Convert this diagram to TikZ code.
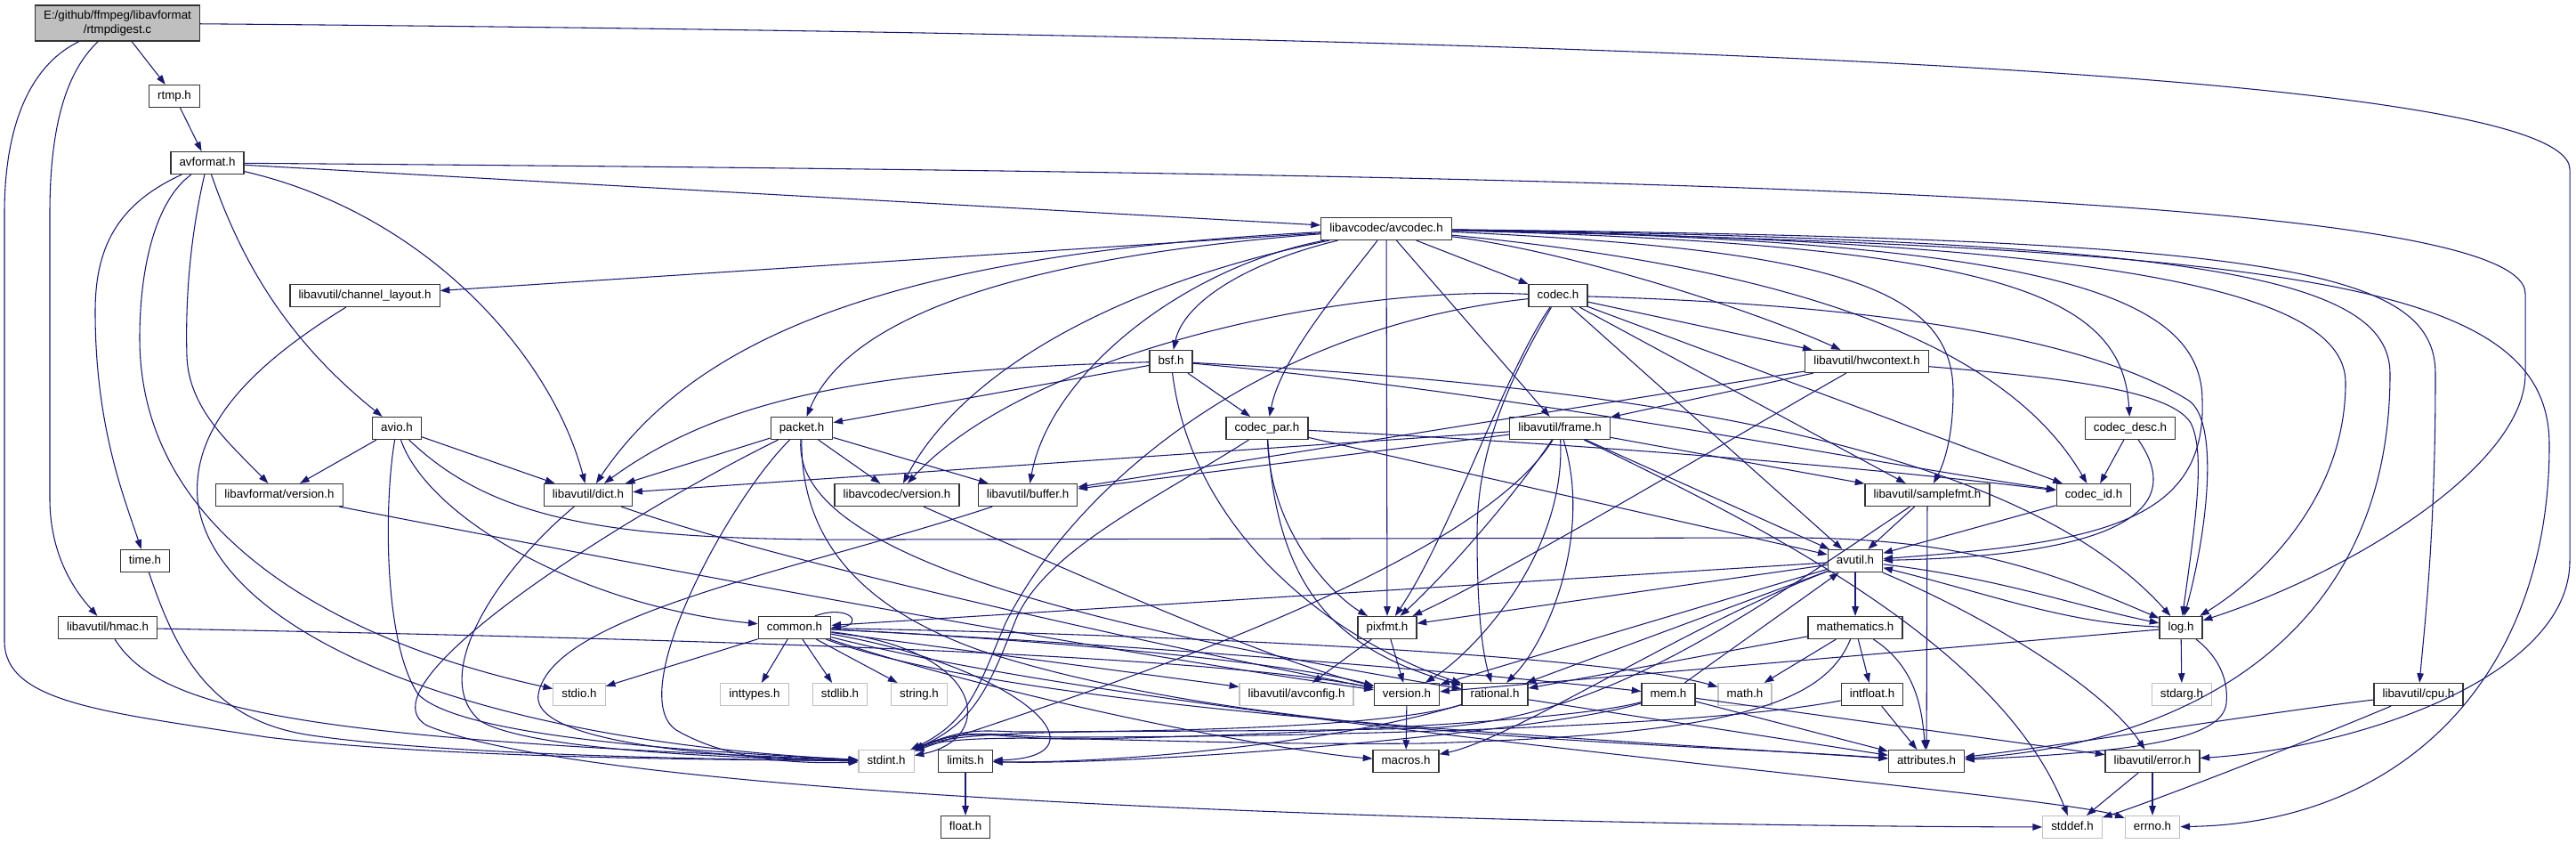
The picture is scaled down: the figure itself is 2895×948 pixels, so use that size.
\documentclass[tikz,border=0pt]{standalone}
\usepackage{fontspec}
\setmainfont{Liberation Sans}
\usetikzlibrary{arrows.meta}
\definecolor{midblue}{HTML}{191970}
\definecolor{grey75}{HTML}{BFBFBF}
\begin{document}
\begin{tikzpicture}[x=0.75pt,y=-0.75pt]
	\useasboundingbox (0,0) rectangle (2895,948);
	\fill [white] (0,0) rectangle (2895,948);
	\begin{scope}[
		boxHD/.style={rectangle,draw=black!80,line width=0.9pt,fill=white,font=\fontsize{10}{12}\selectfont,inner xsep=7.2pt,inner ysep=0pt,minimum height=18.75pt,text height=7.4pt,text depth=2.1pt},
		boxSY/.style={boxHD,draw=grey75},
		boxSR/.style={rectangle,draw=black!80,line width=0.9pt,fill=grey75,font=\fontsize{10}{12}\selectfont,align=center,inner xsep=7.2pt,inner ysep=2pt,minimum height=30pt},
		incl/.style={draw=midblue,line width=0.8pt,-{Triangle[length=8pt,width=5.6pt]}}]
		\node [boxSR]	(root)		at (132,26)		{E:/github/ffmpeg/libavformat\\/rtmpdigest.c};
		\node [boxHD]	(rtmp)		at (196,108)	{rtmp.h};
		\node [boxHD]	(avformat)	at (233,183)	{avformat.h};
		\node [boxHD]	(chlayout)	at (410,332)	{libavutil/channel\_layout.h};
		\node [boxHD]	(avio)		at (446,481)	{avio.h};
		\node [boxHD]	(lavfver)	at (314,556)	{libavformat/version.h};
		\node [boxHD]	(dict)		at (661,556)	{libavutil/dict.h};
		\node [boxHD]	(time)		at (163,630)	{time.h};
		\node [boxHD]	(hmac)		at (121,705)	{libavutil/hmac.h};
		\node [boxSY]	(stdio)		at (651,780)	{stdio.h};
		\node [boxHD]	(avcodec)	at (1558,257)	{libavcodec/avcodec.h};
		\node [boxHD]	(bsf)		at (1316,406)	{bsf.h};
		\node [boxHD]	(packet)	at (901,481)	{packet.h};
		\node [boxHD]	(codecpar)	at (1424,481)	{codec\_par.h};
		\node [boxHD]	(lavcver)	at (1008,556)	{libavcodec/version.h};
		\node [boxHD]	(buffer)	at (1155,556)	{libavutil/buffer.h};
		\node [boxHD]	(common)	at (893,705)	{common.h};
		\node [boxSY]	(inttypes)	at (848,780)	{inttypes.h};
		\node [boxSY]	(stdlib)	at (944,780)	{stdlib.h};
		\node [boxSY]	(string)	at (1033,780)	{string.h};
		\node [boxSY]	(avconfig)	at (1457,780)	{libavutil/avconfig.h};
		\node [boxHD]	(version)	at (1581,780)	{version.h};
		\node [boxHD]	(pixfmt)	at (1559,705)	{pixfmt.h};
		\node [boxSY]	(stdint)	at (996,855)	{stdint.h};
		\node [boxHD]	(limits)	at (1085,855)	{limits.h};
		\node [boxHD]	(macros)	at (1580,855)	{macros.h};
		\node [boxHD]	(float)		at (1085,929)	{float.h};
		\node [boxHD]	(codec)		at (1751,332)	{codec.h};
		\node [boxHD]	(hwctx)		at (2098,406)	{libavutil/hwcontext.h};
		\node [boxHD]	(frame)		at (1753,481)	{libavutil/frame.h};
		\node [boxHD]	(samplefmt)	at (2166,556)	{libavutil/samplefmt.h};
		\node [boxHD]	(codecid)	at (2353,556)	{codec\_id.h};
		\node [boxHD]	(codecdesc)	at (2394,481)	{codec\_desc.h};
		\node [boxHD]	(avutil)	at (2085,630)	{avutil.h};
		\node [boxHD]	(mathem)	at (2085,705)	{mathematics.h};
		\node [boxSY]	(math)		at (1961,780)	{math.h};
		\node [boxHD]	(intfloat)	at (2104,780)	{intfloat.h};
		\node [boxHD]	(rational)	at (1680,780)	{rational.h};
		\node [boxHD]	(mem)		at (1875,780)	{mem.h};
		\node [boxHD]	(attrib)	at (2165,855)	{attributes.h};
		\node [boxHD]	(error)		at (2419,855)	{libavutil/error.h};
		\node [boxSY]	(stddef)	at (2329,929)	{stddef.h};
		\node [boxSY]	(errno)		at (2419,929)	{errno.h};
		\node [boxHD]	(log)		at (2451,705)	{log.h};
		\node [boxSY]	(stdarg)	at (2452,780)	{stdarg.h};
		\node [boxHD]	(cpu)		at (2718,780)	{libavutil/cpu.h};
		\path
		(root) edge [incl]		(rtmp)
		(rtmp) edge [incl]		(avformat)
		(avformat) edge [incl]	(avcodec)
		(avcodec) edge [incl]	(chlayout)
		(avcodec) edge [incl]	(pixfmt)
		(avcodec) edge [incl]	(codec)
		(avcodec) edge [incl]	(frame)
		(avio) edge [incl]		(lavfver)
		(avio) edge [incl]		(dict)
		(bsf) edge [incl]		(packet)
		(bsf) edge [incl]		(codecpar)
		(packet) edge [incl]	(lavcver)
		(packet) edge [incl]	(buffer)
		(packet) edge [incl]	(dict)
		(codecpar) edge [incl]	(avutil)
		(codec) edge [incl]		(hwctx)
		(codec) edge [incl]		(avutil)
		(codec) edge [incl]		(samplefmt)
		(codec) edge [incl]		(codecid)
		(hwctx) edge [incl]		(buffer)
		(hwctx) edge [incl]		(frame)
		(frame) edge [incl]		(dict)
		(frame) edge [incl]		(buffer)
		(frame) edge [incl]		(avutil)
		(frame) edge [incl]		(samplefmt)
		(samplefmt) edge [incl]	(avutil)
		(samplefmt) edge [incl]	(attrib)
		(codecdesc) edge [incl]	(codecid)
		(codecid) edge [incl]	(avutil)
		(avutil) edge [incl]	(mathem)
		(avutil) edge [incl]	(common)
		(avutil) edge [incl]	(rational)
		(avutil) edge [incl]	(version)
		(avutil) edge [incl]	(pixfmt)
		(log) edge [incl]		(stdarg)
		(log) edge [incl]		(version)
		(common) edge [incl]	(inttypes)
		(common) edge [incl]	(stdlib)
		(common) edge [incl]	(string)
		(common) edge [incl]	(stdio)
		(common) edge [incl]	(avconfig)
		(pixfmt) edge [incl]	(avconfig)
		(pixfmt) edge [incl]	(version)
		(version) edge [incl]	(macros)
		(limits) edge [incl]	(float)
		(mathem) edge [incl]	(rational)
		(mathem) edge [incl]	(math)
		(mathem) edge [incl]	(intfloat)
		(intfloat) edge [incl]	(attrib)
		(rational) edge [incl]	(attrib)
		(mem) edge [incl]		(attrib)
		(mem) edge [incl]		(avutil)
		(mem) edge [incl]		(error)
		(error) edge [incl]		(errno)
		(error) edge [incl]		(stddef)
		;
		\draw [incl] (root) .. controls (75,80) and (56,140) .. (56,240) -- (56,560) .. controls (56,630) and (90,670) .. (hmac);
		\draw [incl] (root) .. controls (40,70) and (5,130) .. (5,240) -- (5,720) .. controls (5,790) and (120,800) .. (300,828) .. controls (500,852) and (800,853) .. (stdint);
		\draw [incl] (root) .. controls (1800,40) and (2885,80) .. (2888,190) -- (2888,630) .. controls (2888,760) and (2650,840) .. (error);
		\draw [incl] (avformat) .. controls (1800,195) and (2838,215) .. (2838,330) -- (2838,420) .. controls (2838,520) and (2650,640) .. (log);
		\draw [incl] (avformat) .. controls (130,230) and (107,280) .. (107,350) .. controls (107,480) and (140,560) .. (time);
		\draw [incl] (avformat) .. controls (175,225) and (157,300) .. (157,380) .. controls (157,620) and (420,730) .. (stdio);
		\draw [incl] (avformat) .. controls (215,260) and (208,330) .. (210,400) .. controls (212,460) and (260,500) .. (lavfver);
		\draw [incl] (avformat) .. controls (270,290) and (320,380) .. (avio);
		\draw [incl] (avformat) .. controls (480,240) and (620,400) .. (dict);
		\draw [incl] (chlayout) .. controls (300,400) and (215,470) .. (222,560) .. controls (235,700) and (500,830) .. (stdint);
		\draw [incl] (avio) .. controls (432,560) and (430,720) .. (470,780) .. controls (520,830) and (800,845) .. (stdint);
		\draw [incl] (avio) .. controls (480,580) and (650,680) .. (common);
		\draw [incl] (avio) .. controls (560,590) and (700,608) .. (1000,606) -- (2000,604) .. controls (2200,603) and (2300,640) .. (log);
		\draw [incl] (lavfver) .. controls (900,670) and (1300,740) .. (version);
		\draw [incl] (dict) .. controls (560,640) and (480,760) .. (540,810) .. controls (600,845) and (850,852) .. (stdint);
		\draw [incl] (dict) .. controls (900,640) and (1400,745) .. (version);
		\draw [incl] (time) .. controls (200,740) and (240,810) .. (350,826) .. controls (500,848) and (800,853) .. (stdint);
		\draw [incl] (hmac) .. controls (800,718) and (1350,735) .. (version);
		\draw [incl] (hmac) .. controls (180,800) and (350,830) .. (stdint);
		\draw [incl] (avcodec) .. controls (1000,285) and (780,380) .. (dict);
		\draw [incl] (avcodec) .. controls (1250,320) and (1080,420) .. (lavcver);
		\draw [incl] (avcodec) .. controls (1330,300) and (1180,420) .. (buffer);
		\draw [incl] (avcodec) .. controls (1200,285) and (960,340) .. (packet);
		\draw [incl] (avcodec) .. controls (1400,295) and (1330,340) .. (bsf);
		\draw [incl] (avcodec) .. controls (1510,320) and (1440,400) .. (codecpar);
		\draw [incl] (avcodec) .. controls (1750,280) and (1950,340) .. (hwctx);
		\draw [incl] (avcodec) .. controls (2050,280) and (2195,320) .. (2195,440) .. controls (2195,490) and (2185,520) .. (samplefmt);
		\draw [incl] (avcodec) .. controls (2000,300) and (2250,380) .. (codecid);
		\draw [incl] (avcodec) .. controls (2250,275) and (2385,330) .. (codecdesc);
		\draw [incl] (avcodec) .. controls (2300,270) and (2475,330) .. (2475,450) .. controls (2480,590) and (2350,610) .. (avutil);
		\draw [incl] (avcodec) .. controls (2400,272) and (2636,330) .. (2636,430) .. controls (2636,560) and (2540,650) .. (log);
		\draw [incl] (avcodec) .. controls (2550,268) and (2737,300) .. (2737,420) .. controls (2737,600) and (2725,700) .. (cpu);
		\draw [incl] (avcodec) .. controls (2470,270) and (2686,310) .. (2686,420) .. controls (2686,720) and (2450,835) .. (attrib);
		\draw [incl] (avcodec) .. controls (2600,280) and (2865,320) .. (2865,500) .. controls (2865,760) and (2700,925) .. (errno);
		\draw [incl] (bsf) .. controls (1000,415) and (820,440) .. (dict);
		\draw [incl] (bsf) .. controls (1340,600) and (1500,720) .. (rational);
		\draw [incl] (bsf) .. controls (1700,440) and (2100,520) .. (codecid);
		\draw [incl] (bsf) .. controls (1750,430) and (2250,480) .. (log);
		\draw [incl] (codecpar) .. controls (1300,560) and (1170,620) .. (1140,700) .. controls (1112,770) and (1095,812) .. (stdint);
		\draw [incl] (codecpar) .. controls (1428,600) and (1500,670) .. (pixfmt);
		\draw [incl] (codecpar) .. controls (1435,660) and (1500,730) .. (rational);
		\draw [incl] (codecpar) .. controls (1800,500) and (2100,525) .. (codecid);
		\draw [incl] (packet) .. controls (700,580) and (400,770) .. (480,815) .. controls (700,905) and (1800,928) .. (stddef);
		\draw [incl] (packet) .. controls (820,560) and (700,780) .. (760,820) .. controls (820,855) and (900,858) .. (stdint);
		\draw [incl] (packet) .. controls (900,600) and (960,680) .. (1100,730) .. controls (1400,830) and (1900,835) .. (attrib);
		\draw [incl] (packet) .. controls (890,620) and (1200,700) .. (rational);
		\draw [incl] (lavcver) .. controls (1200,640) and (1420,740) .. (version);
		\draw [incl] (buffer) .. controls (900,640) and (620,690) .. (605,780) .. controls (595,840) and (850,852) .. (stdint);
		\draw [incl] (common.30) .. controls (955,678) and (972,702) .. (common.east);
		\draw [incl] (common) .. controls (1300,810) and (2300,890) .. (errno);
		\draw [incl] (common) .. controls (1150,750) and (1250,850) .. (limits);
		\draw [incl] (common) .. controls (1110,730) and (1120,830) .. (stdint);
		\draw [incl] (common) .. controls (1300,712) and (1800,735) .. (math);
		\draw [incl] (common) .. controls (1150,800) and (1800,830) .. (attrib);
		\draw [incl] (common) .. controls (1150,790) and (1450,845) .. (macros);
		\draw [incl] (common) .. controls (1300,725) and (1700,760) .. (mem);
		\draw [incl] (common) .. controls (1200,720) and (1450,745) .. (version);
		\draw [incl] (codec) .. controls (1500,320) and (1150,400) .. (lavcver);
		\draw [incl] (codec) .. controls (1400,370) and (1200,560) .. (1130,700) .. controls (1100,770) and (1090,810) .. (stdint);
		\draw [incl] (codec) .. controls (1700,420) and (1660,500) .. (1660,600) .. controls (1660,700) and (1668,740) .. (rational);
		\draw [incl] (codec) .. controls (1690,420) and (1630,600) .. (pixfmt);
		\draw [incl] (codec) .. controls (2200,345) and (2380,400) .. (2460,450) .. controls (2495,475) and (2480,600) .. (log);
		\draw [incl] (hwctx) .. controls (1950,490) and (1700,640) .. (pixfmt);
		\draw [incl] (hwctx) .. controls (2330,425) and (2440,440) .. (2462,475) .. controls (2480,510) and (2465,600) .. (log);
		\draw [incl] (frame) .. controls (2000,600) and (2250,730) .. (stddef);
		\draw [incl] (frame) .. controls (1650,650) and (1150,800) .. (stdint);
		\draw [incl] (frame) .. controls (1790,600) and (1740,720) .. (rational);
		\draw [incl] (frame) .. controls (1700,560) and (1620,650) .. (pixfmt);
		\draw [incl] (frame) .. controls (1760,620) and (1660,730) .. (version);
		\draw [incl] (samplefmt) .. controls (1950,700) and (1800,810) .. (1600,818) .. controls (1300,825) and (1090,815) .. (stdint);
		\draw [incl] (mathem) .. controls (2050,790) and (1950,825) .. (1600,835) .. controls (1300,838) and (1090,818) .. (stdint);
		\draw [incl] (mathem) .. controls (2155,750) and (2160,800) .. (attrib);
		\draw [incl] (intfloat) .. controls (1900,820) and (1400,828) .. (1200,828) .. controls (1120,828) and (1090,815) .. (stdint);
		\draw [incl] (mem) .. controls (1750,815) and (1300,830) .. (1200,830) .. controls (1120,830) and (1090,815) .. (stdint);
		\draw [incl] (mem) .. controls (1750,820) and (1300,860) .. (limits);
		\draw [incl] (rational) .. controls (1550,820) and (1250,822) .. (1150,822) .. controls (1110,822) and (1090,815) .. (stdint);
		\draw [incl] (rational) .. controls (1500,835) and (1250,858) .. (limits);
		\draw [incl] (codecdesc) .. controls (2470,590) and (2330,625) .. (avutil);
		\draw [incl] (avutil) .. controls (1900,700) and (1700,830) .. (macros);
		\draw [incl] (avutil) .. controls (2250,700) and (2370,780) .. (error);
		\draw [incl] (avutil) .. controls (2250,650) and (2330,680) .. (log);
		\draw [incl] (log) .. controls (2320,700) and (2240,668) .. (avutil);
		\draw [incl] (log) .. controls (2490,735) and (2505,760) .. (2502,790) .. controls (2498,830) and (2400,845) .. (attrib);
		\draw [incl] (cpu) .. controls (2550,800) and (2300,840) .. (attrib);
		\draw [incl] (cpu) .. controls (2600,830) and (2420,900) .. (stddef);
	\end{scope}
\end{tikzpicture}
\end{document}
